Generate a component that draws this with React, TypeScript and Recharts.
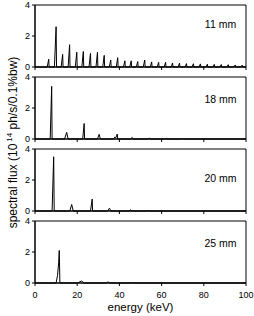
import { LineChart, Line, XAxis, YAxis, ReferenceArea } from 'recharts';

// axis ticks
const energyTicks = [0, 20, 40, 60, 80, 100];
const energyMinorTicks = [10, 30, 50, 70, 90];
const fluxTicks = [0, 2, 4];
const fluxMinorTicks = [1, 3];

const gapLabels = ['11 mm', '18 mm', '20 mm', '25 mm'];

// [energy keV, flux 1e14 ph/s/0.1%bw]
const spectrum11: [number, number][] = [
  [0, 0],
  [5.8, 0], [6.5, 0.5], [6.7, 0],
  [9.2, 0], [10.0, 2.6], [10.2, 0],
  [12.4, 0], [13.1, 0.82], [13.3, 0],
  [15.7, 0], [16.4, 1.44], [16.6, 0],
  [19.1, 0], [19.8, 0.95], [20.0, 0],
  [22.2, 0], [22.9, 1.0], [23.1, 0],
  [25.6, 0], [26.3, 0.88], [26.5, 0],
  [28.9, 0], [29.6, 0.95], [29.8, 0],
  [32.1, 0], [32.8, 0.75], [33.0, 0],
  [35.2, 0], [35.9, 0.45], [36.1, 0],
  [38.5, 0], [39.2, 0.6], [39.4, 0],
  [41.9, 0], [42.6, 0.4], [42.8, 0],
  [44.9, 0], [45.6, 0.4], [45.8, 0],
  [48.0, 0], [48.7, 0.35], [48.9, 0],
  [51.3, 0], [52.0, 0.45], [52.2, 0],
  [54.6, 0], [55.3, 0.33], [55.5, 0],
  [57.9, 0], [58.6, 0.3], [58.8, 0],
  [61.2, 0], [61.9, 0.3], [62.1, 0],
  [64.5, 0], [65.2, 0.26], [65.4, 0],
  [67.8, 0], [68.5, 0.25], [68.7, 0],
  [71.1, 0], [71.8, 0.22], [72.0, 0],
  [74.4, 0], [75.1, 0.21], [75.3, 0],
  [77.7, 0], [78.4, 0.2], [78.6, 0],
  [81.0, 0], [81.7, 0.18], [81.9, 0],
  [84.3, 0], [85.0, 0.17], [85.2, 0],
  [87.6, 0], [88.3, 0.16], [88.5, 0],
  [90.9, 0], [91.6, 0.15], [91.8, 0],
  [94.2, 0], [94.9, 0.13], [95.1, 0],
  [97.5, 0], [98.2, 0.12], [98.4, 0],
  [100, 0],
];

const spectrum18: [number, number][] = [
  [0, 0],
  [7.2, 0], [7.9, 3.4], [8.1, 0],
  [14.0, 0], [15.0, 0.43], [15.7, 0],
  [22.6, 0], [23.3, 1.0], [23.5, 0],
  [29.6, 0], [30.4, 0.3], [31.0, 0],
  [37.2, 0], [37.8, 0.12], [38.3, 0.08], [39.0, 0.32], [39.2, 0],
  [45.3, 0], [46.1, 0.1], [46.5, 0],
  [53.5, 0], [54.3, 0.06], [54.6, 0],
  [61.5, 0], [62.2, 0.04], [62.5, 0],
  [69.4, 0], [70.0, 0.03], [70.3, 0],
  [100, 0],
];

const spectrum20: [number, number][] = [
  [0, 0],
  [8.1, 0], [8.85, 3.5], [9.1, 0],
  [16.5, 0], [17.4, 0.42], [18.1, 0],
  [26.3, 0], [27.1, 0.77], [27.3, 0],
  [34.4, 0], [35.3, 0.18], [36.0, 0],
  [44.6, 0], [45.3, 0.08], [45.7, 0],
  [53.5, 0], [54.0, 0.04], [54.4, 0],
  [100, 0],
];

const spectrum25: [number, number][] = [
  [0, 0],
  [10.0, 0], [10.7, 0.5], [11.2, 1.3], [11.5, 2.1], [11.8, 0],
  [20.2, 0], [21.2, 0.08], [22.0, 0.12], [22.8, 0.06], [23.3, 0],
  [33.8, 0], [34.7, 0.07], [35.3, 0],
  [45.5, 0], [46.2, 0.02], [46.8, 0],
  [100, 0],
];

const FONT = '"Liberation Sans", Arial, Helvetica, sans-serif';

const panels = [
  { points: spectrum11, top: 5, labelY: 27.5 },
  { points: spectrum18, top: 77, labelY: 103 },
  { points: spectrum20, top: 149, labelY: 181.5 },
  { points: spectrum25, top: 221, labelY: 246.5 },
];

function Panel({ points, top, last }: { points: [number, number][]; top: number; last: boolean }) {
  const data = points.map(([e, f]) => ({ e, f }));
  return (
    <div style={{ position: 'absolute', left: 0, top: top - 5 }}>
      <LineChart width={254} height={last ? 87 : 71} data={data} margin={{ top: 5, right: 8, bottom: 0, left: 0 }}>
        <XAxis
          dataKey="e"
          type="number"
          domain={[0, 100]}
          ticks={energyTicks}
          interval={0}
          tickSize={3}
          tickMargin={6}
          stroke="#000"
          tick={{ fill: '#000', fontSize: 9 }}
          tickFormatter={last ? undefined : () => ''}
          height={last ? 20 : 4}
        />
        <XAxis
          xAxisId="minor"
          dataKey="e"
          type="number"
          domain={[0, 100]}
          ticks={energyMinorTicks}
          interval={0}
          mirror
          axisLine={false}
          tickSize={2}
          tick={false}
          stroke="#000"
          height={0}
        />
        <YAxis
          type="number"
          domain={[0, 4]}
          ticks={fluxTicks}
          interval={0}
          tickSize={3}
          tickMargin={2}
          width={35}
          stroke="#000"
          tick={{ fill: '#000', fontSize: 9 }}
        />
        <YAxis
          yAxisId="minor"
          type="number"
          domain={[0, 4]}
          ticks={fluxMinorTicks}
          interval={0}
          mirror
          axisLine={false}
          tickSize={2}
          tick={false}
          stroke="#000"
          width={0}
        />
        <ReferenceArea x1={0} x2={100} y1={0} y2={4} fill="none" stroke="#000" strokeWidth={1} ifOverflow="visible" />
        <Line dataKey="f" type="linear" stroke="#000" strokeWidth={1} dot={false} isAnimationActive={false} />
      </LineChart>
    </div>
  );
}

export default function App() {
  return (
    <div style={{ position: 'absolute', left: 0, top: 0, width: 254, height: 316, background: '#fff', fontFamily: FONT }}>
      {panels.map((p, i) => (
        <Panel key={i} points={p.points} top={p.top} last={i === panels.length - 1} />
      ))}
      <svg width={254} height={316} style={{ position: 'absolute', left: 0, top: 0, pointerEvents: 'none' }}>
        {panels.map((p, i) => (
          <text key={i} x={220.5} y={p.labelY} textAnchor="middle" fontSize={10.5} fill="#000">
            {gapLabels[i]}
          </text>
        ))}
        <text x={140.5} y={311} textAnchor="middle" fontSize={11.5} fill="#000">
          energy (keV)
        </text>
        <text transform="translate(17,142.5) rotate(-90)" textAnchor="middle" fontSize={12} fill="#000">
          spectral flux (10
          <tspan dx={2} dy={-5} fontSize={8}>14</tspan>
          <tspan dy={5}> ph/s/0.1%bw)</tspan>
        </text>
      </svg>
    </div>
  );
}
